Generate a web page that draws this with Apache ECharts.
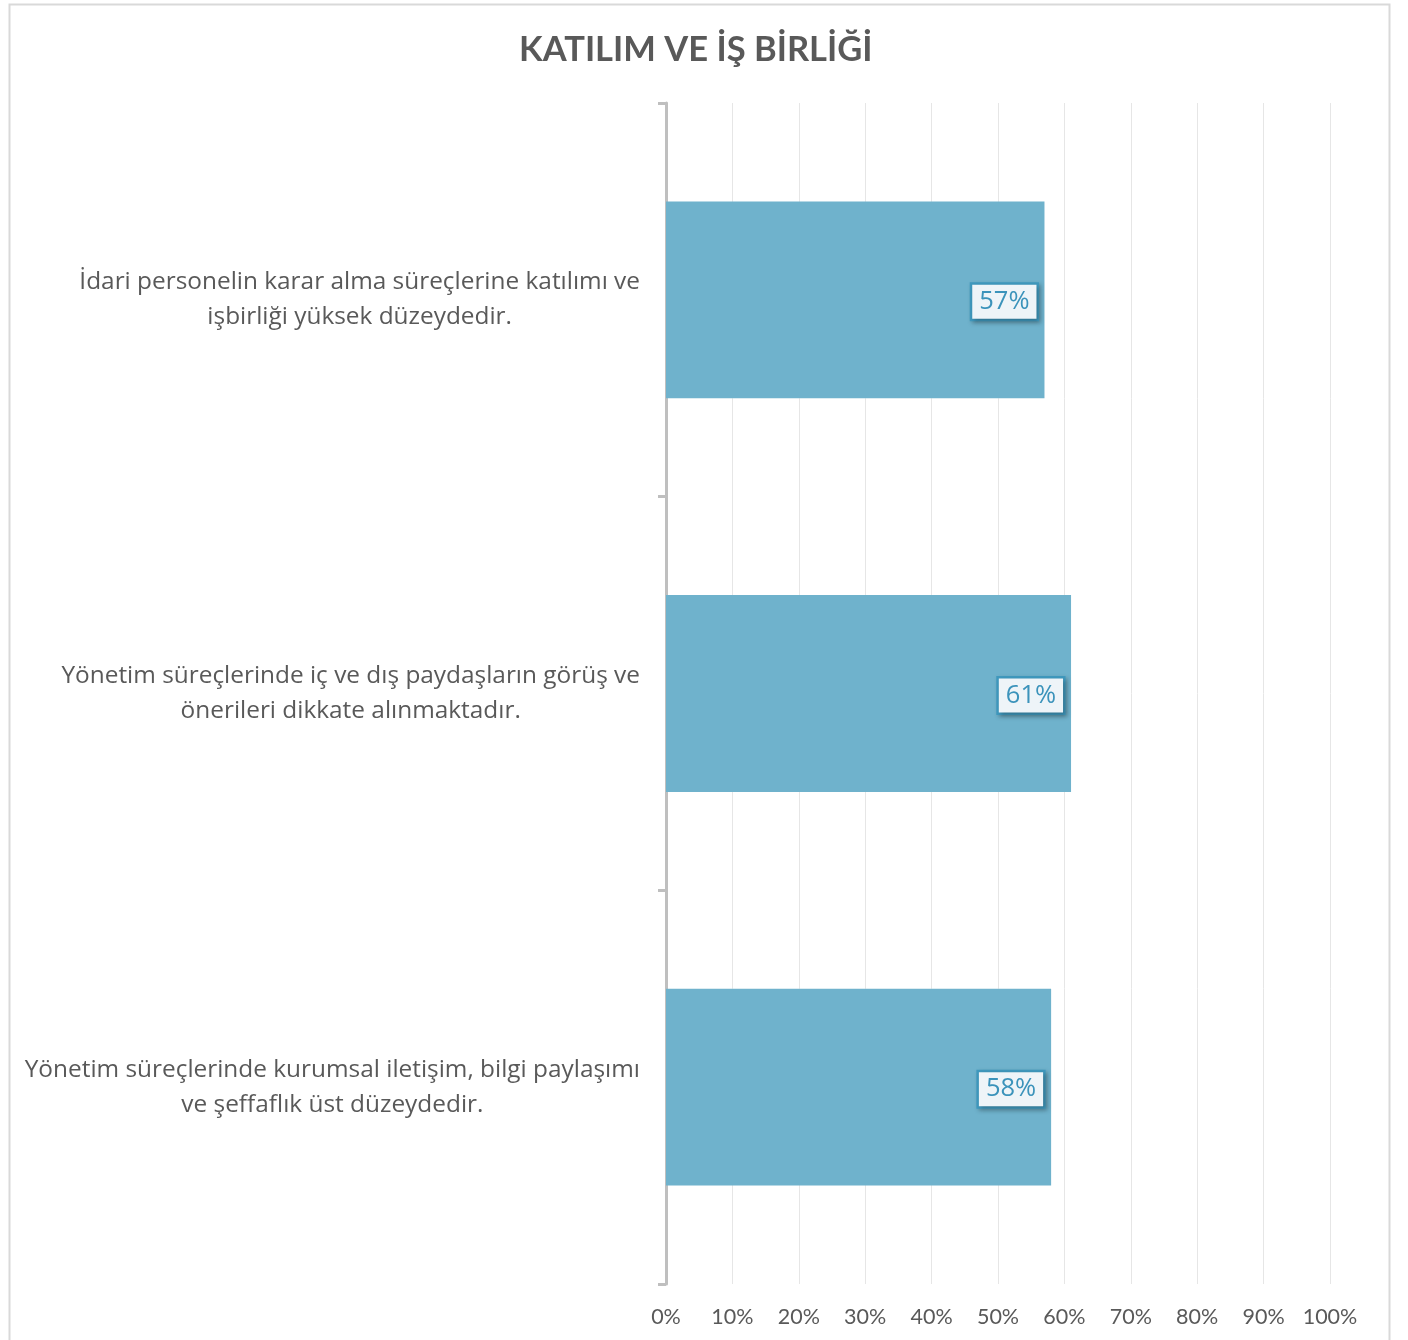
<!DOCTYPE html>
<html><head><meta charset="utf-8">
<script src="https://cdn.jsdelivr.net/npm/echarts@6/dist/echarts.min.js"></script>
<style>html,body{margin:0;padding:0;background:#fff}#c{width:1408px;height:1340px}</style>
</head><body><div id="c"></div>
<script>
const title = 'KATILIM VE İŞ BİRLİĞİ';
const categories = [
  ['İdari personelin karar alma süreçlerine katılımı ve', 'işbirliği yüksek düzeydedir.'],
  ['Yönetim süreçlerinde iç ve dış paydaşların görüş ve', 'önerileri dikkate alınmaktadır.'],
  ['Yönetim süreçlerinde kurumsal iletişim, bilgi paylaşımı', 've şeffaflık üst düzeydedir.']
];
const values = [0.57, 0.61, 0.58];
const xTicks = [0, 0.1, 0.2, 0.3, 0.4, 0.5, 0.6, 0.7, 0.8, 0.9, 1.0];

const FONT = 'Lato, "Open Sans", sans-serif';
const FONT2 = '"Open Sans", Lato, sans-serif';
const chart = echarts.init(document.getElementById('c'));
chart.setOption({
  animation: false,
  title: {
    text: title, left: 514, top: 27,
    textStyle: {fontFamily: FONT, fontSize: 34.5, fontWeight: 'bold', color: '#595959'}
  },
  graphic: [{
    type: 'rect', left: 7, top: 2, z: -1,
    shape: {x: 0, y: 0, width: 1380, height: 1350},
    style: {fill: 'none', stroke: '#d9d9d9', lineWidth: 2}
  }],
  grid: {left: 666, right: 78, top: 103, bottom: 56, containLabel: false},
  xAxis: {
    type: 'value', min: 0, max: 1, interval: 0.1,
    axisLine: {show: false}, axisTick: {show: false},
    splitLine: {show: true, lineStyle: {color: '#e6e6e6', width: 1}},
    axisLabel: {
      margin: 22, fontFamily: FONT, fontSize: 21.5, color: '#595959',
      formatter: v => Math.round(v * 100) + '%'
    }
  },
  yAxis: {
    type: 'category', inverse: true,
    data: categories.map(c => c.join('\n')),
    axisLine: {show: true, lineStyle: {color: '#bfbfbf', width: 3}},
    axisTick: {show: true, length: 8, lineStyle: {color: '#bfbfbf', width: 3}},
    axisLabel: {
      margin: 26, align: 'right', fontFamily: FONT2, fontSize: 24.4, color: '#595959', lineHeight: 35,
      formatter: (v) => v.split('\n').map(s => '{c|' + s + '}').join('\n'),
      rich: {c: {align: 'center', fontFamily: FONT2, fontSize: 24.4, color: '#595959', lineHeight: 35}}
    }
  },
  series: [{
    type: 'bar', data: values, barCategoryGap: '50%',
    itemStyle: {color: '#6fb2cc'},
    label: {
      show: true, position: 'insideRight', distance: 8, offset: [0, 2],
      formatter: p => Math.round(p.value * 100) + '%',
      fontFamily: FONT2, fontSize: 25.5, color: '#3b93bb',
      backgroundColor: '#eef4f8', borderColor: '#3f98bd', borderWidth: 2.5,
      padding: [5, 7, 3, 7],
      shadowColor: 'rgba(0,0,0,0.25)', shadowBlur: 4, shadowOffsetX: 2, shadowOffsetY: 2
    }
  }]
});
</script></body></html>
